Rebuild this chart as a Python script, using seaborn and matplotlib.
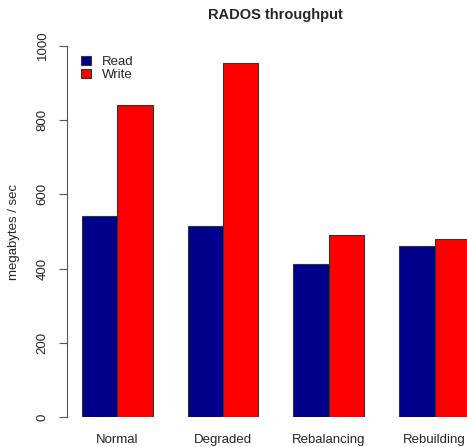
import pandas as pd
import matplotlib.pyplot as plt
import matplotlib.patches as mpatches
import seaborn as sns

# RADOS throughput
states = ['Normal', 'Degraded', 'Rebalancing', 'Rebuilding']
read_mbps = [541, 515, 412, 461]
write_mbps = [841, 952, 491, 480]
ops = ['Read', 'Write']
colors = {'Read': '#00008B', 'Write': '#FF0000'}

df = pd.DataFrame({
    'state': states * 2,
    'op': ['Read'] * len(states) + ['Write'] * len(states),
    'mbps': read_mbps + write_mbps,
})

sns.set_style('white')
plt.rcParams['font.family'] = ['Liberation Sans', 'DejaVu Sans']

fig = plt.figure(figsize=(4.67, 4.47), dpi=100)
ax = fig.add_axes([66.7 / 467, (447 - 417.3) / 447, 1 - 66.7 / 467, (417.3 - 30) / 447])

sns.barplot(data=df, x='state', y='mbps', hue='op', order=states, hue_order=ops,
            palette=colors, saturation=1, width=0.668, edgecolor='#333333',
            linewidth=0.8, errorbar=None, legend=False, ax=ax)

ax.set_xlim(-0.479, 3.307)
ax.set_ylim(0, 1042)
ax.set_yticks([0, 200, 400, 600, 800, 1000])
for s in ['top', 'right', 'bottom']:
    ax.spines[s].set_visible(False)
ax.spines['left'].set_bounds(0, 1000)
ax.spines['left'].set_color('#555555')
ax.spines['left'].set_linewidth(0.8)
ax.tick_params(axis='y', direction='out', length=6, width=0.8, color='#555555',
               pad=7, labelsize=9.5, labelrotation=90, left=True)
for lab in ax.get_yticklabels():
    lab.set_va('center')
ax.tick_params(axis='x', length=0, pad=12, labelsize=9.5)
ax.set_xlabel('')
ax.set_ylabel('')

fig.text(14 / 467, 1 - 232 / 447, 'megabytes / sec', rotation=90,
         ha='center', va='center', fontsize=9.5)
fig.text(275 / 467, 1 - 15 / 447, 'RADOS throughput', ha='center', va='center',
         fontsize=10.5, fontweight='bold')

handles = [mpatches.Patch(facecolor=colors[o], edgecolor='#333333', linewidth=0.8, label=o)
           for o in ops]
fig.legend(handles=handles, loc='upper left', bbox_to_anchor=(74 / 467, 1 - 49 / 447),
           frameon=False, fontsize=9.5, handlelength=0.8, handleheight=0.7,
           handletextpad=0.8, borderpad=0, labelspacing=0.1)

fig.savefig('out.png', dpi=100)
